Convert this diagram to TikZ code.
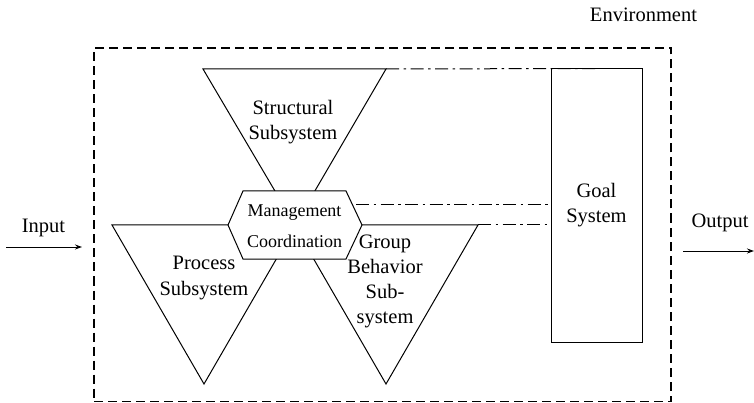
\documentclass[tikz,border=0pt]{standalone}
\usepackage{fontspec}
\setmainfont{LiberationSerif}[Extension=.ttf, UprightFont=*-Regular, BoldFont=*-Bold, ItalicFont=*-Italic, BoldItalicFont=*-BoldItalic]
\usetikzlibrary{arrows.meta}
\begin{document}
\begin{tikzpicture}[x=1pt,y=-1pt,
  lbl/.style={font=\rmfamily\fontsize{20.5}{25}\selectfont, align=center, inner sep=0pt},
  small/.style={font=\rmfamily\fontsize{18}{22}\selectfont, inner sep=0pt},
  edge/.style={line width=1pt, line join=miter},
  link/.style={line width=1pt, dash pattern=on 13pt off 4.5pt on 2.5pt off 4.5pt},
  env/.style={line width=1.6pt, dash pattern=on 9pt off 5pt},
  flow/.style={line width=1pt, -{Stealth[length=7pt,width=5pt]}}
]
\useasboundingbox (0,0) rectangle (754,403);

% environment boundary
\node[draw, env, minimum width=577pt, minimum height=353.5pt, inner sep=0pt] (envbox) at (382.5,224.75) {};
\node[lbl] (envlbl) at (643.5,15) {Environment};

% three subsystem triangles meeting at the hub
\coordinate (sTL) at (203,69);
\coordinate (sTR) at (386,69);
\coordinate (hub) at (295,225);
\coordinate (pL) at (112,225);
\coordinate (pR) at (296,225);
\coordinate (pB) at (204,384);
\coordinate (gL) at (294,225);
\coordinate (gR) at (478,225);
\coordinate (gB) at (386,384);
\draw[edge] (sTL) -- (sTR) -- (hub) -- cycle;
\draw[edge] (pL) -- (pR) -- (pB) -- cycle;
\draw[edge] (gL) -- (gR) -- (gB) -- cycle;

% management hexagon on top
\draw[edge, fill=white] (228,225) -- (243,191) -- (346,191) -- (362,225)
  -- (346,259) -- (243,259) -- cycle;
\node[small] (mgmt) at (294.5,213) {Management};
\node[small] (coord) at (294.5,241.5) {Coordination};

% subsystem labels
\node[lbl] (struct) at (293,122) {Structural\\Subsystem};
\node[lbl] (proc) at (204,278) {Process\\Subsystem};
\node[lbl] (grp) at (385,281.5) {Group\\Behavior\\Sub-\\system};

% goal system
\node[draw, line width=1pt, minimum width=91pt, minimum height=273pt, inner sep=0pt, lbl] (goal) at (596.5,205.5) {Goal\\System};

% links to the goal system
\coordinate (mgE) at (356,205);
\draw[link] (sTR) -- (goal.north);
\draw[link] (mgE) -- (goal.west |- mgE);
\draw[link] (gR) -- (goal.west |- gR);

% input and output
\node[lbl] (inlbl) at (43.5,228) {Input};
\node[lbl] (outlbl) at (720,223) {Output};
\coordinate (inA) at (6,247);
\coordinate (inB) at (82,247);
\coordinate (outA) at (683,251);
\coordinate (outB) at (754,251);
\draw[flow] (inA) -- (inB);
\draw[flow] (outA) -- (outB);
\end{tikzpicture}
\end{document}
